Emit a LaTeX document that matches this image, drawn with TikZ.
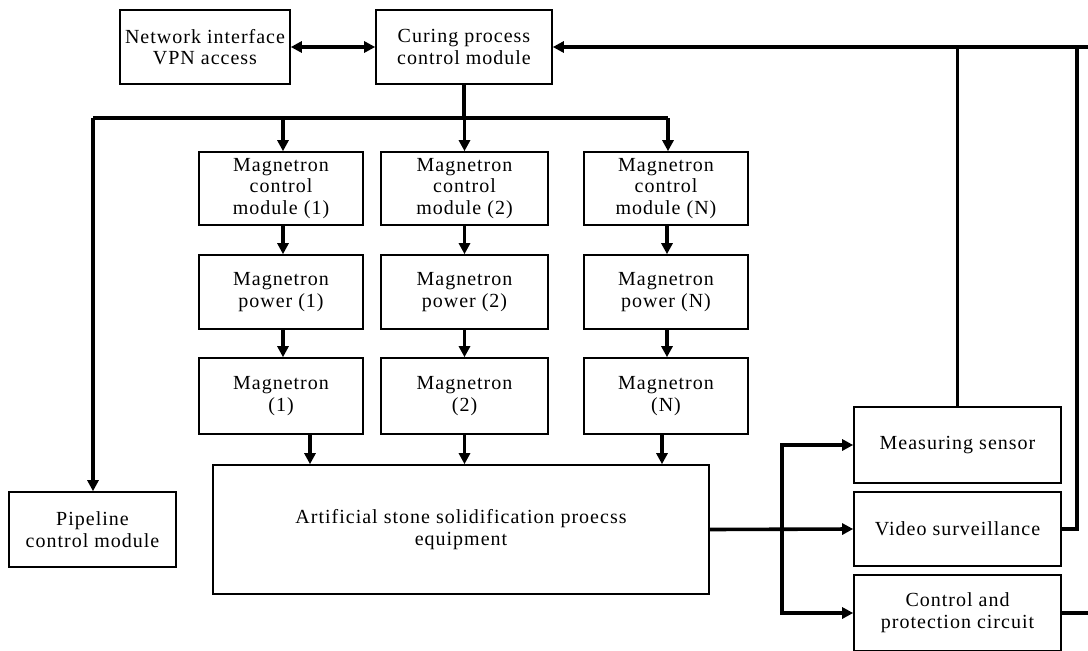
\documentclass[tikz,border=0pt]{standalone}
\usepackage{fontspec}
\setmainfont{Liberation Serif}[LetterSpace=5]
\usetikzlibrary{arrows.meta}
\begin{document}
\begin{tikzpicture}[x=1pt,y=-1pt,
  box/.style={draw, line width=1.6pt, inner sep=0pt, align=center, font=\fontsize{20}{21.7}\selectfont},
  conn/.style={line width=3.6pt},
  arr/.style={conn, -{Triangle[length=11pt,width=11pt]}},
  darr/.style={conn, {Triangle[length=11pt,width=11pt]}-{Triangle[length=11pt,width=11pt]}}]
\useasboundingbox (0,0) rectangle (1088,651);
% boxes
\node[box, minimum width=170pt, minimum height=74pt] (net) at (205,47) {Network interface\\VPN access};
\node[box, minimum width=176pt, minimum height=74pt] (cur) at (464,47) {Curing process\\control module};
\node[box, minimum width=164pt, minimum height=73pt] (mc1) at (281,188.5) {Magnetron\\control\\module (1)};
\node[box, minimum width=167pt, minimum height=73pt] (mc2) at (464.5,188.5) {Magnetron\\control\\module (2)};
\node[box, minimum width=164pt, minimum height=73pt] (mcN) at (666,188.5) {Magnetron\\control\\module (N)};
\node[box, minimum width=164pt, minimum height=74pt] (mp1) at (281,292) {Magnetron\\power (1)};
\node[box, minimum width=167pt, minimum height=74pt] (mp2) at (464.5,292) {Magnetron\\power (2)};
\node[box, minimum width=164pt, minimum height=74pt] (mpN) at (666,292) {Magnetron\\power (N)};
\node[box, minimum width=164pt, minimum height=76pt] (mg1) at (281,396) {Magnetron\\(1)};
\node[box, minimum width=167pt, minimum height=76pt] (mg2) at (464.5,396) {Magnetron\\(2)};
\node[box, minimum width=164pt, minimum height=76pt] (mgN) at (666,396) {Magnetron\\(N)};
\node[box, minimum width=496pt, minimum height=129pt] (eq) at (461,529.5) {Artificial stone solidification proecss\\equipment};
\node[box, minimum width=167pt, minimum height=75pt] (pipe) at (92.5,529.5) {Pipeline\\control module};
\node[box, minimum width=207pt, minimum height=76pt] (ms) at (957.5,445) {Measuring sensor};
\node[box, minimum width=207pt, minimum height=74pt] (vs) at (957.5,529) {Video surveillance};
\node[box, minimum width=207pt, minimum height=76pt] (cp) at (957.5,613) {Control and\\protection circuit};
% coordinates
\coordinate (busL) at (93,118);
\coordinate (tr) at (1088,47);
\coordinate (vr) at (1077,47);
\coordinate (sp) at (782,530);
% top
\draw[darr] (net.east) -- (cur.west);
\draw[arr] (tr) -- (cur.east);
\draw[conn] (cur.south) -- (cur.south |- busL);
\draw[conn] (busL) -- ([xshift=2pt]mcN.north |- busL);
\draw[arr] (busL) -- (busL |- pipe.north);
\draw[arr] ([xshift=2pt]mc1.north |- busL) -- ([xshift=2pt]mc1.north);
\draw[arr] (mc2.north |- busL) -- (mc2.north);
\draw[arr] ([xshift=2pt]mcN.north |- busL) -- ([xshift=2pt]mcN.north);
% columns
\draw[arr] ([xshift=2pt]mc1.south) -- ([xshift=2pt]mp1.north);
\draw[arr] (mc2.south) -- (mp2.north);
\draw[arr] ([xshift=1pt]mcN.south) -- ([xshift=1pt]mpN.north);
\draw[arr] ([xshift=2pt]mp1.south) -- ([xshift=2pt]mg1.north);
\draw[arr] (mp2.south) -- (mg2.north);
\draw[arr] ([xshift=1pt]mpN.south) -- ([xshift=1pt]mgN.north);
\draw[arr] ([xshift=29pt]mg1.south) -- ([xshift=29pt]mg1.south |- eq.north);
\draw[arr] (mg2.south) -- (mg2.south |- eq.north);
\draw[arr] ([xshift=-4pt]mgN.south) -- ([xshift=-4pt]mgN.south |- eq.north);
% right side
\draw[arr] (eq.east) -- (vs.west);
\draw[arr] (sp) |- (ms.west);
\draw[arr] (sp) |- (cp.west);
\draw[conn] (ms.north) -- (ms.north |- tr);
\draw[conn] (vs.east) -| (vr);
\draw[conn] (cp.east) -- (cp.east -| tr);
\end{tikzpicture}
\end{document}
